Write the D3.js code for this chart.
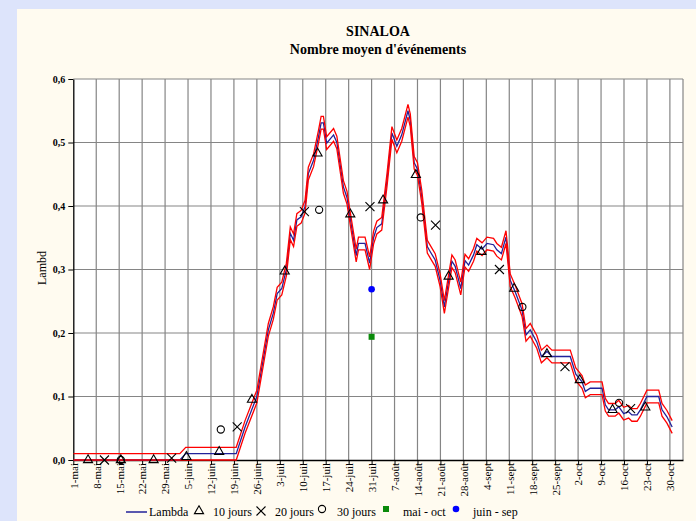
<!DOCTYPE html>
<html>
<head>
<meta charset="utf-8">
<script src="https://cdn.jsdelivr.net/npm/d3@7"></script>
<style>
  html, body { margin: 0; padding: 0; background: #dde4fb; }
  svg { display: block; }
  text { font-family: "Liberation Serif", "Times New Roman", serif; fill: #000; }
</style>
</head>
<body>
<svg id="chart" width="696" height="521"></svg>
<script>
// ---- Data (days counted from 1 May) ----
const weekDays = [0, 7, 14, 21, 28, 35, 42, 49, 56, 63, 70, 77, 84, 91, 98, 105, 112, 119, 126, 133, 140, 147, 154, 161, 168, 175, 182];
const weekLabels = ["1-mai", "8-mai", "15-mai", "22-mai", "29-mai", "5-juin", "12-juin", "19-juin", "26-juin", "3-juil", "10-juil", "17-juil", "24-juil", "31-juil", "7-août", "14-août", "21-août", "28-août", "4-sept", "11-sept", "18-sept", "25-sept", "2-oct", "9-oct", "16-oct", "23-oct", "30-oct"];
const yTickValues = [0, 0.1, 0.2, 0.3, 0.4, 0.5, 0.6];
const yTickLabels = ["0,0", "0,1", "0,2", "0,3", "0,4", "0,5", "0,6"];

// Lambda curve and its upper / lower band
const lambdaDay = [0, 32.5, 34.3, 49.7, 52.4, 56, 59.5, 61, 62.2, 63.6, 65, 66.2, 67.2, 68.2, 69.5, 70.7, 71.7, 73.3, 74.8, 75.6, 76.3, 77.3, 79.4, 80.4, 82.4, 83.5, 84.5, 86.3, 87, 89, 90.4, 91.6, 92.6, 94.1, 95.7, 97.2, 98.7, 100.2, 102.1, 102.8, 104, 105, 106.3, 108, 108.9, 110.4, 111.9, 113.2, 115.5, 116.5, 118.2, 119.5, 120.6, 122.1, 123.1, 124.7, 126.2, 128.2, 129.2, 130.6, 132, 133.3, 134.8, 136.9, 138.1, 139.4, 141.4, 142.8, 144.5, 146, 151.6, 153.3, 155.2, 156.2, 157.7, 161.3, 162.3, 163.3, 165.3, 166.4, 167.9, 169.4, 170.4, 172, 173, 175, 178.6, 179.6, 181.1, 182.7];
const lambdaValue = [0, 0, 0.01, 0.01, 0.052, 0.10, 0.205, 0.231, 0.262, 0.27, 0.30, 0.357, 0.346, 0.378, 0.383, 0.399, 0.451, 0.472, 0.509, 0.531, 0.531, 0.499, 0.512, 0.50, 0.43, 0.413, 0.38, 0.322, 0.341, 0.341, 0.31, 0.35, 0.366, 0.372, 0.441, 0.515, 0.494, 0.512, 0.55, 0.535, 0.468, 0.458, 0.415, 0.336, 0.328, 0.315, 0.283, 0.241, 0.313, 0.305, 0.27, 0.314, 0.307, 0.323, 0.339, 0.332, 0.341, 0.339, 0.331, 0.325, 0.351, 0.283, 0.265, 0.236, 0.197, 0.205, 0.186, 0.163, 0.171, 0.163, 0.163, 0.135, 0.123, 0.108, 0.113, 0.113, 0.087, 0.079, 0.079, 0.084, 0.073, 0.076, 0.071, 0.071, 0.079, 0.10, 0.10, 0.079, 0.068, 0.052];
const upperValue = [0.01, 0.01, 0.02, 0.02, 0.062, 0.11, 0.215, 0.241, 0.272, 0.28, 0.31, 0.367, 0.356, 0.388, 0.393, 0.409, 0.461, 0.482, 0.519, 0.541, 0.541, 0.509, 0.522, 0.51, 0.44, 0.423, 0.39, 0.332, 0.351, 0.351, 0.32, 0.36, 0.376, 0.382, 0.451, 0.525, 0.504, 0.522, 0.56, 0.545, 0.478, 0.468, 0.425, 0.346, 0.338, 0.325, 0.293, 0.251, 0.323, 0.315, 0.28, 0.324, 0.317, 0.333, 0.349, 0.342, 0.351, 0.349, 0.341, 0.335, 0.361, 0.293, 0.275, 0.246, 0.207, 0.215, 0.196, 0.173, 0.181, 0.173, 0.173, 0.145, 0.133, 0.118, 0.123, 0.123, 0.097, 0.089, 0.089, 0.094, 0.083, 0.086, 0.081, 0.081, 0.089, 0.11, 0.11, 0.089, 0.078, 0.062];
const lowerValue = [0, 0, 0, 0, 0.042, 0.09, 0.195, 0.221, 0.252, 0.26, 0.29, 0.347, 0.336, 0.368, 0.373, 0.389, 0.441, 0.462, 0.499, 0.521, 0.521, 0.489, 0.502, 0.49, 0.42, 0.403, 0.37, 0.312, 0.331, 0.331, 0.30, 0.34, 0.356, 0.362, 0.431, 0.505, 0.484, 0.502, 0.54, 0.525, 0.458, 0.448, 0.405, 0.326, 0.318, 0.305, 0.273, 0.231, 0.303, 0.295, 0.26, 0.304, 0.297, 0.313, 0.329, 0.322, 0.331, 0.329, 0.321, 0.315, 0.341, 0.273, 0.255, 0.226, 0.187, 0.195, 0.176, 0.153, 0.161, 0.153, 0.153, 0.125, 0.113, 0.098, 0.103, 0.103, 0.077, 0.069, 0.069, 0.074, 0.063, 0.066, 0.061, 0.061, 0.069, 0.09, 0.09, 0.069, 0.058, 0.042];

// Averages over 10, 20 and 30 day windows
const tenDay = [4.5, 14.5, 24.5, 34.5, 44.5, 54.5, 64.5, 74.5, 84.5, 94.5, 104.5, 114.5, 124.5, 134.5, 144.5, 154.5, 164.5, 174.5];
const tenValue = [0, 0, 0, 0.005, 0.013, 0.095, 0.297, 0.483, 0.387, 0.409, 0.449, 0.289, 0.328, 0.27, 0.167, 0.126, 0.079, 0.083];
const twentyDay = [9.5, 30, 50, 70.5, 90.5, 110.5, 130, 150, 170];
const twentyValue = [0, 0.003, 0.052, 0.391, 0.399, 0.37, 0.30, 0.147, 0.081];
const thirtyDay = [14.5, 45, 75, 106, 137, 166.5];
const thirtyValue = [0, 0.048, 0.394, 0.382, 0.241, 0.09];

// Season averages
const seasonDay = [91];
const maiOctValue = [0.194];
const juinSepValue = [0.269];

// ---- Layout ----
const svg = d3.select("#chart");
const W = 696, H = 521;
const plot = { left: 73.3, right: 683, top: 79, bottom: 460 };

svg.append("rect").attr("width", W).attr("height", H).attr("fill", "#dde4fb");
svg.append("rect").attr("x", 17).attr("y", 9).attr("width", W - 17).attr("height", H - 9).attr("fill", "#fffbf0");
svg.append("rect")
  .attr("x", plot.left).attr("y", plot.top)
  .attr("width", plot.right - plot.left).attr("height", plot.bottom - plot.top)
  .attr("fill", "#ffffff");

const x = d3.scaleLinear().domain([0, 186]).range([plot.left, plot.right]);
const y = d3.scaleLinear().domain([0, 0.6]).range([plot.bottom, plot.top]);

// Gridlines
const grid = svg.append("g").attr("stroke", "#858585").attr("stroke-width", 1.2);
grid.selectAll("line.h").data(yTickValues.slice(1)).join("line")
  .attr("x1", plot.left).attr("x2", plot.right)
  .attr("y1", d => y(d)).attr("y2", d => y(d));
grid.selectAll("line.v").data(weekDays.slice(1).concat([186])).join("line")
  .attr("x1", d => x(d)).attr("x2", d => x(d))
  .attr("y1", plot.top).attr("y2", plot.bottom);

// Titles
svg.append("text").attr("x", 378).attr("y", 36).attr("text-anchor", "middle")
  .attr("font-weight", "bold").attr("font-size", 14).text("SINALOA");
svg.append("text").attr("x", 378).attr("y", 54).attr("text-anchor", "middle")
  .attr("font-weight", "bold").attr("font-size", 14).text("Nombre moyen d'événements");

// Y axis
const yAxis = svg.append("g").attr("transform", `translate(${plot.left},0)`)
  .call(d3.axisLeft(y).tickValues(yTickValues).tickFormat((d, i) => yTickLabels[i]).tickSize(5).tickSizeOuter(0).tickPadding(3));
yAxis.select(".domain").attr("stroke", "#000").attr("stroke-width", 1.3);
yAxis.selectAll(".tick line").attr("stroke", "#000");
yAxis.selectAll("text").attr("font-size", 10).attr("font-weight", "bold")
  .style("font-family", "'Liberation Serif', serif");

svg.append("text").attr("transform", "translate(46,268) rotate(-90)")
  .attr("text-anchor", "middle").attr("font-size", 12).text("Lambd");

// X axis
const xAxis = svg.append("g").attr("transform", `translate(0,${plot.bottom})`)
  .call(d3.axisBottom(x).tickValues(weekDays).tickFormat((d, i) => weekLabels[i]).tickSize(5).tickSizeOuter(0));
xAxis.select(".domain").attr("stroke", "#000").attr("stroke-width", 1.3);
xAxis.selectAll(".tick line").attr("stroke", "#000");
xAxis.selectAll("text")
  .attr("transform", "rotate(-90)")
  .attr("x", -3).attr("y", 0).attr("dy", "0.35em")
  .style("text-anchor", "end")
  .style("font-family", "'Liberation Serif', serif")
  .attr("font-size", 11);

// Curves
svg.append("clipPath").attr("id", "plotClip").append("rect")
  .attr("x", plot.left).attr("y", plot.top - 2)
  .attr("width", plot.right - plot.left).attr("height", plot.bottom - plot.top + 4);

const line = d3.line().x(d => x(d[0])).y(d => y(d[1]));
const curves = svg.append("g").attr("clip-path", "url(#plotClip)").attr("fill", "none");
curves.append("path").datum(lambdaDay.map((d, i) => [d, lambdaValue[i]]))
  .attr("d", line).attr("stroke", "#22229a").attr("stroke-width", 1.3);
curves.append("path").datum(lambdaDay.map((d, i) => [d, upperValue[i]]))
  .attr("d", line).attr("stroke", "#ff0000").attr("stroke-width", 1.3);
curves.append("path").datum(lambdaDay.map((d, i) => [d, lowerValue[i]]))
  .attr("d", line).attr("stroke", "#ff0000").attr("stroke-width", 1.3);

// Marker helpers
const triangle = d3.symbol().type(d3.symbolTriangle).size(36);
function drawTriangle(g, cx, cy) {
  g.append("path").attr("d", triangle()).attr("transform", `translate(${cx},${cy})`)
    .attr("fill", "none").attr("stroke", "#000").attr("stroke-width", 1.1);
}
function drawCross(g, cx, cy) {
  const s = 4.5;
  g.append("path").attr("d", `M${cx - s},${cy - s}L${cx + s},${cy + s}M${cx - s},${cy + s}L${cx + s},${cy - s}`)
    .attr("stroke", "#000").attr("stroke-width", 1.1).attr("fill", "none");
}
function drawRing(g, cx, cy) {
  g.append("circle").attr("cx", cx).attr("cy", cy).attr("r", 3.6)
    .attr("fill", "none").attr("stroke", "#000").attr("stroke-width", 1.1);
}
function drawSquare(g, cx, cy) {
  g.append("rect").attr("x", cx - 3).attr("y", cy - 3).attr("width", 6).attr("height", 6)
    .attr("fill", "#0a8a0a");
}
function drawDot(g, cx, cy) {
  g.append("circle").attr("cx", cx).attr("cy", cy).attr("r", 3.3).attr("fill", "#0000ff");
}

const marks = svg.append("g");
tenDay.forEach((d, i) => drawTriangle(marks, x(d), y(tenValue[i])));
twentyDay.forEach((d, i) => drawCross(marks, x(d), y(twentyValue[i])));
thirtyDay.forEach((d, i) => drawRing(marks, x(d), y(thirtyValue[i])));
seasonDay.forEach((d, i) => drawSquare(marks, x(d), y(maiOctValue[i])));
seasonDay.forEach((d, i) => drawDot(marks, x(d), y(juinSepValue[i])));

// Legend
const legend = svg.append("g");
const ly = 511;
legend.append("line").attr("x1", 126).attr("x2", 147).attr("y1", ly + 1).attr("y2", ly + 1)
  .attr("stroke", "#22229a").attr("stroke-width", 1.5);
drawTriangle(legend, 199, ly);
drawCross(legend, 261, ly);
drawRing(legend, 322, ly - 2);
drawSquare(legend, 386, ly - 2);
drawDot(legend, 456, ly - 2);
const legendText = [["Lambda", 149], ["10 jours", 213], ["20 jours", 275], ["30 jours", 337], ["mai - oct", 403], ["juin - sep", 473]];
legend.selectAll("text").data(legendText).join("text")
  .attr("x", d => d[1]).attr("y", ly + 5).attr("font-size", 12).text(d => d[0]);
</script>
</body>
</html>
